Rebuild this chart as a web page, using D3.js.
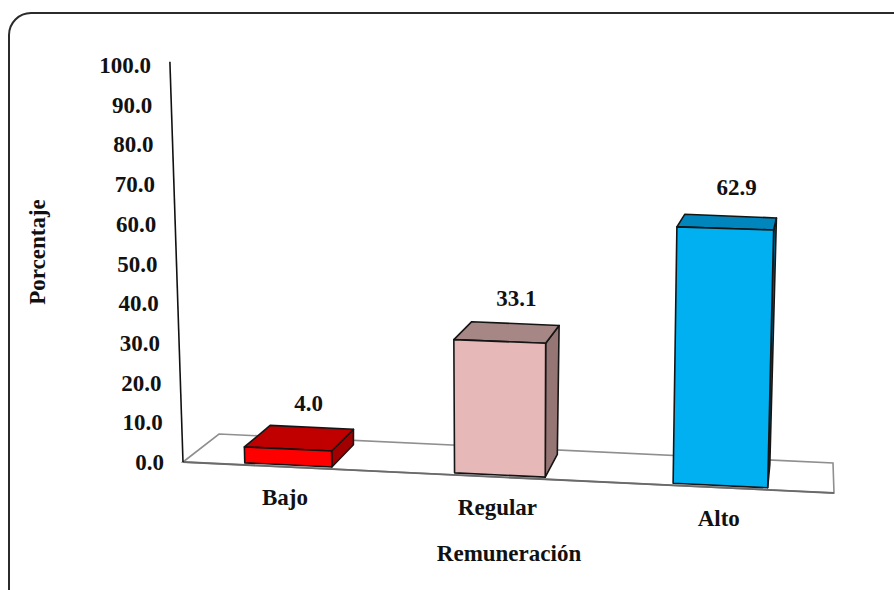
<!DOCTYPE html>
<html>
<head>
<meta charset="utf-8">
<script src="https://cdn.jsdelivr.net/npm/d3@7"></script>
<style>
  html, body { margin: 0; padding: 0; background: #ffffff; }
  svg { display: block; }
  text { font-family: "Liberation Serif", "Times New Roman", serif; font-weight: bold; fill: #111; }
</style>
</head>
<body>
<svg id="chart" width="894" height="590"></svg>
<script>
// ---- data ----
const categories = ["Bajo", "Regular", "Alto"];
const values = [4.0, 33.1, 62.9];
const yTickValues = [0, 10, 20, 30, 40, 50, 60, 70, 80, 90, 100];
const axisTitleX = "Remuneración";
const axisTitleY = "Porcentaje";

// ---- styling ----
const frontColors = ["#FF0000", "#E6B8B7", "#00B0F0"];
const topColors   = ["#C00000", "#A68786", "#0086BD"];
const sideColors  = ["#A20000", "#967675", "#006E9B"];
const fontSize = 23;

const svg = d3.select("#chart");

// Corners of the 3D plot box on screen: floor (value 0) and ceiling (value 100),
// front (depth 0) and back (depth 1), left (u 0) and right (u 1).
const box = {
  FBL: [183, 462], FBR: [834, 493], BBL: [219, 434], BBR: [833, 463],
  FTL: [170, 65],  FTR: [846, 80],  BTL: [218, 50],  BTR: [845, 74]
};

const x = d3.scaleBand().domain(categories).range([0, 1])
  .paddingInner(0.58).paddingOuter(0.29);
const y = d3.scaleLinear().domain([0, 100]).range([0, 1]);

// slight perspective growth toward the right
const warp = u => 0.94 * u / (1 - 0.06 * u);
const lerp = (a, b, t) => [a[0] + (b[0] - a[0]) * t, a[1] + (b[1] - a[1]) * t];

function P(u, v, w) {
  const s = warp(u), t = y(v);
  const bf = lerp(box.FBL, box.FBR, s), bb = lerp(box.BBL, box.BBR, s);
  const tf = lerp(box.FTL, box.FTR, s), tb = lerp(box.BTL, box.BTR, s);
  return lerp(lerp(bf, tf, t), lerp(bb, tb, t), w);
}
const poly = pts => "M" + pts.map(p => p[0].toFixed(2) + "," + p[1].toFixed(2)).join("L") + "Z";

// ---- outer frame ----
svg.append("rect")
  .attr("x", 9).attr("y", 13).attr("width", 930).attr("height", 620)
  .attr("rx", 22).attr("ry", 22)
  .attr("fill", "none").attr("stroke", "#2b2b2b").attr("stroke-width", 2);

// ---- floor ----
svg.append("path")
  .attr("d", poly([P(0, 0, 0), P(0, 0, 1), P(1, 0, 1), P(1, 0, 0)]))
  .attr("fill", "#ffffff").attr("stroke", "#8f8f8f").attr("stroke-width", 1.6);
svg.append("path")
  .attr("d", poly([P(0, 0, 0), P(1, 0, 0)]).replace("Z", ""))
  .attr("fill", "none").attr("stroke", "#6a6a6a").attr("stroke-width", 1.8);

// ---- value axis ----
svg.append("line")
  .attr("x1", P(0, 0, 0)[0]).attr("y1", P(0, 0, 0)[1])
  .attr("x2", P(0, 100.8, 0)[0]).attr("y2", P(0, 100.8, 0)[1])
  .attr("stroke", "#111").attr("stroke-width", 1.6);

svg.append("g").selectAll("text").data(yTickValues).join("text")
  .attr("x", d => P(0, d, 0)[0] - 19)
  .attr("y", d => P(0, d, 0)[1])
  .attr("dy", "0.35em")
  .attr("text-anchor", "end")
  .attr("font-size", fontSize)
  .text(d => d3.format(".1f")(d));

// ---- bars ----
const w0 = 0.07, w1 = 0.85;
const bars = svg.append("g").selectAll("g").data(categories).join("g");
bars.each(function (c, i) {
  const g = d3.select(this);
  const u0 = x(c), u1 = x(c) + x.bandwidth(), v = values[i];
  const edge = { stroke: "#151515", "stroke-width": 1.6, "stroke-linejoin": "round" };
  const face = (pts, fill) => {
    const p = g.append("path").attr("d", poly(pts)).attr("fill", fill);
    Object.entries(edge).forEach(([k, val]) => p.attr(k, val));
  };
  face([P(u1, 0, w0), P(u1, 0, w1), P(u1, v, w1), P(u1, v, w0)], sideColors[i]);
  face([P(u0, v, w0), P(u1, v, w0), P(u1, v, w1), P(u0, v, w1)], topColors[i]);
  face([P(u0, 0, w0), P(u1, 0, w0), P(u1, v, w0), P(u0, v, w0)], frontColors[i]);
});

// value labels above each bar
svg.append("g").selectAll("text").data(categories).join("text")
  .attr("x", (c, i) => P(x(c) + x.bandwidth() / 2, values[i], (w0 + w1) / 2)[0] + 9)
  .attr("y", (c, i) => P(x(c) + x.bandwidth() / 2, values[i], (w0 + w1) / 2)[1] - 27)
  .attr("text-anchor", "middle")
  .attr("font-size", fontSize)
  .text((c, i) => d3.format(".1f")(values[i]));

// category labels under the floor
svg.append("g").selectAll("text").data(categories).join("text")
  .attr("x", c => P(x(c) + x.bandwidth() / 2, 0, 0)[0] - 1)
  .attr("y", c => P(x(c) + x.bandwidth() / 2, 0, 0)[1] + 38)
  .attr("text-anchor", "middle")
  .attr("font-size", fontSize)
  .text(c => c);

// axis titles
svg.append("text")
  .attr("x", 509).attr("y", 561)
  .attr("text-anchor", "middle")
  .attr("font-size", fontSize)
  .text(axisTitleX);

svg.append("text")
  .attr("transform", "translate(45,252) rotate(-90)")
  .attr("text-anchor", "middle")
  .attr("font-size", fontSize)
  .text(axisTitleY);
</script>
</body>
</html>
